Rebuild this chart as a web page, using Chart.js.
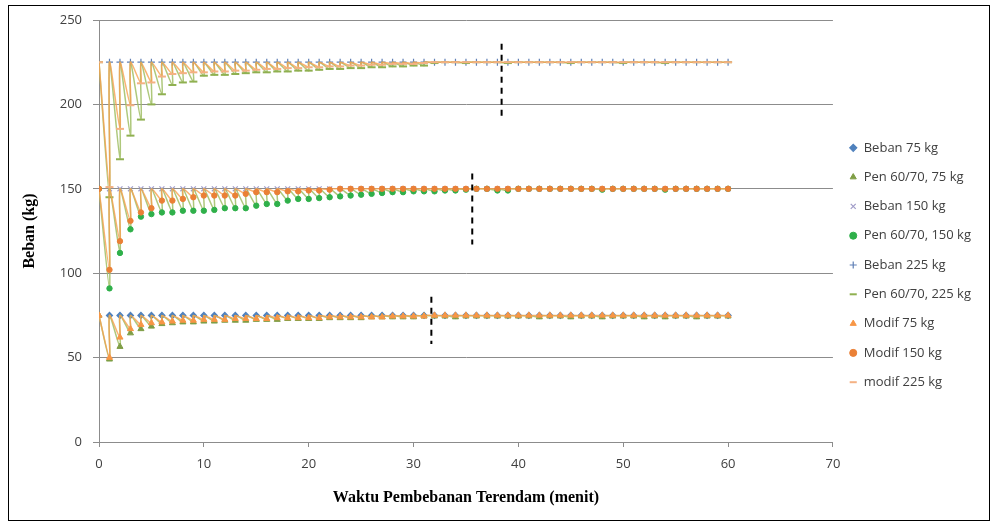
<!DOCTYPE html>
<html>
<head>
<meta charset="utf-8">
<script src="https://cdn.jsdelivr.net/npm/chart.js@4.4.1/dist/chart.umd.min.js"></script>
<style>
  body { margin: 0; background: #fff; }
  #wrap { position: relative; width: 993px; height: 524px; }
  #frame { position: absolute; left: 8px; top: 5px; width: 982px; height: 516px; border: 1px solid #000; box-sizing: border-box; pointer-events: none; }
</style>
</head>
<body>
<div id="wrap">
  <canvas id="grafik" width="993" height="524"></canvas>
  <div id="frame"></div>
</div>
<script>
// waktu (menit)
const menit = [0,1,2,3,4,5,6,7,8,9,10,11,12,13,14,15,16,17,18,19,20,21,22,23,24,25,26,27,28,29,30,
  31,32,33,34,35,36,37,38,39,40,41,42,43,44,45,46,47,48,49,50,51,52,53,54,55,56,57,58,59,60];

// beban (kg) tiap menit
const beban75  = [75,75,75,75,75,75,75,75,75,75,75,75,75,75,75,75,75,75,75,75,75,75,75,75,75,75,75,75,75,75,75,75,75,75,75,75,75,75,75,75,75,75,75,75,75,75,75,75,75,75,75,75,75,75,75,75,75,75,75,75,75];
const beban150 = [150,150,150,150,150,150,150,150,150,150,150,150,150,150,150,150,150,150,150,150,150,150,150,150,150,150,150,150,150,150,150,150,150,150,150,150,150,150,150,150,150,150,150,150,150,150,150,150,150,150,150,150,150,150,150,150,150,150,150,150,150];
const beban225 = [225,225,225,225,225,225,225,225,225,225,225,225,225,225,225,225,225,225,225,225,225,225,225,225,225,225,225,225,225,225,225,225,225,225,225,225,225,225,225,225,225,225,225,225,225,225,225,225,225,225,225,225,225,225,225,225,225,225,225,225,225];

// hasil pembacaan
const pen75 = [75,49,56.5,64.5,67,68.5,70,70.5,71,71,71.5,71.5,72,72,72,72.5,72.5,72.5,73,73,73,73,73.5,73.5,73.5,73.5,74,74,74,74,74,
  74.5,74.5,74.5,74,74.5,74.5,74.5,74.5,74.5,74.5,74.5,74,74.5,74.5,74,74.5,74.5,74,74.5,74.5,74.5,74,74.5,74,74.5,74.5,74,74.5,74.5,74.5];
const pen150 = [150,91,112,126,133.5,135,136,136,137,137,137,137.5,138.5,138.5,138.5,140,141,141,143,144,144,144.5,145,145.5,146,146.5,147,147.5,148,148,148.5,
  148.5,148.5,149,149,149.5,150,150,149,149,150,150,150,150,150,150,150,150,149.5,150,150,150,150,150,149.5,150,150,150,150,150,150];
const pen225 = [225,145,167.5,181.5,191,200,206,211.5,213,213.5,217,217.5,217.5,218,218.5,219,219,219.5,219.5,220,220,220.5,221,221,221.5,221.5,222,222,222.5,222.5,223,
  223,224.5,225,225,224.5,225,225,225,224.5,225,225,225,225,225,224.5,225,225,225,225,224.5,225,225,225,224.5,225,225,225,225,225,225];
const modif75 = [75,50,62,67,69.5,70.5,71,71.5,72,72,72.5,72.5,72.5,73,73,73,73,73.5,73.5,73.5,73.5,73.5,74,74,74,74,74,74,74.5,74.5,74.5,
  74.5,75,75,75,75,75,75,75,75,75,75,75,75,75,75,75,75,75,75,75,75,75,75,75,75,75,75,75,75,75];
const modif150 = [150,102,119,131,136,138.5,143,143,144,145,146,146,146,146,147,148,148,148,148.5,148.5,149,149,149.5,150,150,150,150,150,150,150,150,
  150,150,150,150,150,150,150,150,150,150,150,150,150,150,150,150,150,150,150,150,150,150,150,150,150,150,150,150,150,150];
const modif225 = [225,151,185.5,199.5,212.5,213,216.5,218,218.5,219,219,219.5,219.5,220,220,220.5,221,221,221.5,221.5,222,222,222.5,222.5,223,223,223.5,223.5,224,224,224,
  224.5,225,225,225,225,225,225,225,225,225,225,225,225,225,225,225,225,225,225,225,225,225,225,225,225,225,225,225,225,225];

// garis putus-putus
const batasX = [38.4, 35.6, 31.7];
const batasAtas = [236, 159, 86];
const batasBawah = [192, 117, 58];

function titik(nilai) {
  return menit.slice(1).map((m, i) => ({ x: m, y: nilai[i + 1] }));
}

// turun ke nilai bacaan lalu naik lagi ke beban
function gergaji(nilai, beban) {
  const pts = [{ x: menit[0], y: nilai[0] }];
  for (let i = 1; i < menit.length; i++) {
    pts.push({ x: menit[i], y: nilai[i] });
    pts.push({ x: menit[i], y: beban[i] });
  }
  return pts;
}

const hijau = 'rgba(160,190,100,0.85)';
const oranye = 'rgba(247,160,80,0.8)';

function seriBeban(label, nilai, style, warna, r) {
  return {
    label: label, data: titik(nilai), showLine: false,
    pointStyle: style, pointRadius: r, pointBorderColor: warna, pointBackgroundColor: warna, pointBorderWidth: 1.2
  };
}

function seriBaca(label, nilai, beban, garis, style, warna, r, bw) {
  return {
    label: label, data: gergaji(nilai, beban), showLine: true,
    borderColor: garis, borderWidth: 1.5, tension: 0.25,
    pointStyle: style,
    pointRadius: ctx => (ctx.dataIndex % 2 === 1 || ctx.dataIndex === 0) ? r : 0,
    pointBorderColor: warna, pointBackgroundColor: warna, pointBorderWidth: bw
  };
}

const datasets = [
  seriBeban('Beban 75 kg', beban75, 'rectRot', '#4f81bd', 3),
  seriBaca('Pen 60/70, 75 kg', pen75, beban75, hijau, 'triangle', '#7f9e45', 3.5, 1),
  seriBeban('Beban 150 kg', beban150, 'crossRot', '#a09cc8', 3.5),
  seriBaca('Pen 60/70, 150 kg', pen150, beban150, hijau, 'circle', '#2fb04a', 2.7, 1),
  seriBeban('Beban 225 kg', beban225, 'cross', '#5f7fb5', 3.5),
  seriBaca('Pen 60/70, 225 kg', pen225, beban225, hijau, 'line', '#8fb050', 4, 2),
  seriBaca('Modif 75 kg', modif75, beban75, oranye, 'triangle', '#f79646', 3.5, 1),
  seriBaca('Modif 150 kg', modif150, beban150, oranye, 'circle', '#ea8036', 2.7, 1),
  seriBaca('modif 225 kg', modif225, beban225, oranye, 'line', '#f4b183', 4, 2)
];
datasets.forEach((d, i) => { d.order = -i; });

batasX.forEach((bx, i) => {
  datasets.push({
    label: 'batas', data: [{ x: bx, y: batasAtas[i] }, { x: bx, y: batasBawah[i] }],
    showLine: true, borderColor: '#000', borderWidth: 2, borderDash: [6, 5], pointRadius: 0, order: -20
  });
});

const teks = '#404040';
const abu = '#8c8c8c';

new Chart(document.getElementById('grafik'), {
  type: 'scatter',
  data: { datasets: datasets },
  options: {
    responsive: false,
    animation: false,
    layout: { padding: { top: 20, right: 12, bottom: 14, left: 0 } },
    plugins: {
      tooltip: { enabled: false },
      legend: {
        position: 'right',
        labels: {
          usePointStyle: true, boxWidth: 8, boxHeight: 5, padding: 16.3,
          color: teks, font: { family: 'Open Sans', size: 13 },
          filter: item => item.datasetIndex < 9,
          sort: (a, b) => a.datasetIndex - b.datasetIndex
        }
      }
    },
    scales: {
      x: {
        type: 'linear', min: 0, max: 70,
        afterFit: s => { s.height = 68; },
        ticks: { stepSize: 10, color: teks, padding: 9, font: { family: 'Open Sans', size: 13 } },
        grid: { drawOnChartArea: false, drawTicks: true, tickLength: 5, color: abu },
        border: { color: abu },
        title: { display: true, text: 'Waktu Pembebanan Terendam (menit)', color: '#000',
          font: { family: 'Liberation Serif', size: 16, weight: 'bold' }, padding: { top: 0, bottom: 3 } }
      },
      y: {
        min: 0, max: 250,
        afterFit: s => { s.width = 99; },
        ticks: { stepSize: 50, color: teks, padding: 11, font: { family: 'Open Sans', size: 13 } },
        grid: { color: abu, tickLength: 6 },
        border: { color: abu },
        title: { display: true, text: 'Beban (kg)', color: '#000',
          font: { family: 'Liberation Serif', size: 16, weight: 'bold' }, padding: { top: 20, bottom: 0 } }
      }
    }
  }
});
</script>
</body>
</html>
